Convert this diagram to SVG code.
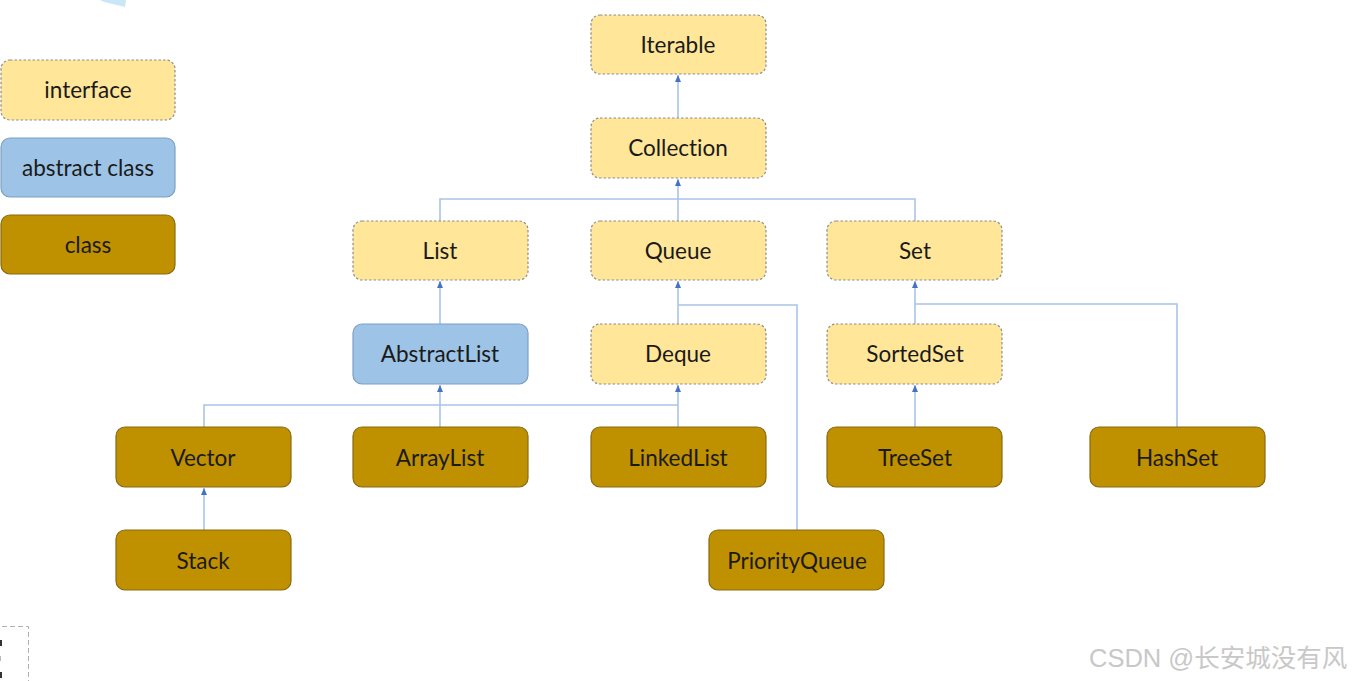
<svg xmlns="http://www.w3.org/2000/svg" width="1354" height="681" viewBox="0 0 1354 681">
<style>
.iface{fill:#FFE699;stroke:#8E8E8E;stroke-width:1.2;stroke-dasharray:2.5 2}
.abs{fill:#9DC3E6;stroke:#7E9FC3;stroke-width:1.2}
.cls{fill:#BF9000;stroke:#8A6A10;stroke-width:1.2}
.lbl{font-family:Lato,"Open Sans",sans-serif;font-size:22.5px;fill:#1a1a1a;text-anchor:middle;font-variant-ligatures:none}
.conn{fill:none;stroke:#A9C4E8;stroke-width:1.6}
</style>
<defs>
<marker id="arr" viewBox="0 0 8 8" refX="7" refY="4" markerWidth="8" markerHeight="8" orient="auto" markerUnits="userSpaceOnUse">
<path d="M0,1 L7,4 L0,7 Z" fill="#4472C4"/>
</marker>
</defs>
<rect width="1354" height="681" fill="#fff"/>
<polygon points="100,0 126,0 125,7 104,2" fill="#C9E7F8"/>
<g id="decor">
<path d="M2,626.5 H28.5 V681" fill="none" stroke="#b0b0b0" stroke-width="1" stroke-dasharray="5 3"/>
<rect x="0" y="640" width="2" height="6" fill="#333"/>
<rect x="0" y="656" width="1" height="5" fill="#bbb"/>
<rect x="0" y="672" width="2" height="6" fill="#333"/>
</g>
<g id="connectors">
<path class="conn" d="M678,118 V75" marker-end="url(#arr)"/>
<path class="conn" d="M678,199 V179" marker-end="url(#arr)"/>
<path class="conn" d="M440,221 V199 H915 V221"/>
<path class="conn" d="M678,199 V221"/>
<path class="conn" d="M440,324 V281" marker-end="url(#arr)"/>
<path class="conn" d="M678,324 V281" marker-end="url(#arr)"/>
<path class="conn" d="M678,305 H797 V530"/>
<path class="conn" d="M915,324 V281" marker-end="url(#arr)"/>
<path class="conn" d="M915,304 H1177 V427"/>
<path class="conn" d="M915,427 V385" marker-end="url(#arr)"/>
<path class="conn" d="M440,405 V385" marker-end="url(#arr)"/>
<path class="conn" d="M678,427 V385" marker-end="url(#arr)"/>
<path class="conn" d="M204,427 V405 H678"/>
<path class="conn" d="M440,405 V427"/>
<path class="conn" d="M204,530 V488" marker-end="url(#arr)"/>
</g>
<g id="legend-interface"><rect class="iface" x="1" y="60" width="174" height="60" rx="9"/><text class="lbl" x="88" y="98">interface</text></g>
<g id="legend-abstract"><rect class="abs" x="1" y="138" width="174" height="59" rx="9"/><text class="lbl" x="88" y="176">abstract class</text></g>
<g id="legend-class"><rect class="cls" x="1" y="215" width="174" height="59" rx="9"/><text class="lbl" x="88" y="253">class</text></g>
<g id="Iterable"><rect class="iface" x="591" y="15" width="175" height="59" rx="9"/><text class="lbl" x="678" y="53">Iterable</text></g>
<g id="Collection"><rect class="iface" x="591" y="118" width="175" height="60" rx="9"/><text class="lbl" x="678" y="156">Collection</text></g>
<g id="List"><rect class="iface" x="353" y="221" width="175" height="59" rx="9"/><text class="lbl" x="440" y="259">List</text></g>
<g id="Queue"><rect class="iface" x="591" y="221" width="175" height="59" rx="9"/><text class="lbl" x="678" y="259">Queue</text></g>
<g id="Set"><rect class="iface" x="827" y="221" width="175" height="59" rx="9"/><text class="lbl" x="915" y="259">Set</text></g>
<g id="AbstractList"><rect class="abs" x="353" y="324" width="175" height="60" rx="9"/><text class="lbl" x="440" y="362">AbstractList</text></g>
<g id="Deque"><rect class="iface" x="591" y="324" width="175" height="60" rx="9"/><text class="lbl" x="678" y="362">Deque</text></g>
<g id="SortedSet"><rect class="iface" x="827" y="324" width="175" height="60" rx="9"/><text class="lbl" x="915" y="362">SortedSet</text></g>
<g id="Vector"><rect class="cls" x="116" y="427" width="175" height="60" rx="9"/><text class="lbl" x="203" y="466">Vector</text></g>
<g id="ArrayList"><rect class="cls" x="353" y="427" width="175" height="60" rx="9"/><text class="lbl" x="440" y="466">ArrayList</text></g>
<g id="LinkedList"><rect class="cls" x="591" y="427" width="175" height="60" rx="9"/><text class="lbl" x="678" y="466">LinkedList</text></g>
<g id="TreeSet"><rect class="cls" x="827" y="427" width="175" height="60" rx="9"/><text class="lbl" x="915" y="466">TreeSet</text></g>
<g id="HashSet"><rect class="cls" x="1090" y="427" width="175" height="60" rx="9"/><text class="lbl" x="1177" y="466">HashSet</text></g>
<g id="Stack"><rect class="cls" x="116" y="530" width="175" height="60" rx="9"/><text class="lbl" x="203" y="569">Stack</text></g>
<g id="PriorityQueue"><rect class="cls" x="709" y="530" width="175" height="60" rx="9"/><text class="lbl" x="797" y="569">PriorityQueue</text></g>
<text x="1089" y="667" font-family="'Liberation Sans','Noto Sans CJK SC',sans-serif" font-size="25.5" fill="#c8c8c8">CSDN @长安城没有风</text>
</svg>
